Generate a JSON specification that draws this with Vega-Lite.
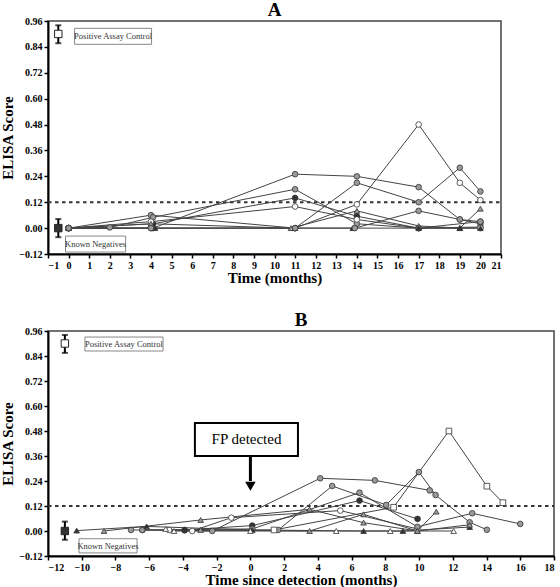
{
  "$schema": "https://vega.github.io/schema/vega-lite/v6.json",
  "background": "white",
  "padding": {"left": 0, "top": 0, "right": 4, "bottom": 0},
  "spacing": 24,
  "config": {
    "view": {"stroke": "#444", "strokeWidth": 1.5},
    "axis": {
      "labelFont": "Liberation Serif, Times New Roman, DejaVu Serif, serif", "labelFontWeight": "bold", "labelFontSize": 10, "labelColor": "black",
      "titleFont": "Liberation Serif, Times New Roman, DejaVu Serif, serif", "titleFontSize": 15, "titleFontWeight": "bold", "titleColor": "black",
      "domainColor": "black", "domainWidth": 2, "tickColor": "black", "tickWidth": 1.5, "tickSize": 4,
      "grid": false, "labelPadding": 2
    },
    "axisX": {"titlePadding": 0},
    "axisY": {"titlePadding": 3},
    "title": {"font": "Liberation Serif, Times New Roman, DejaVu Serif, serif", "fontSize": 19, "fontWeight": "bold", "color": "black", "anchor": "middle", "offset": -4}
  },
  "datasets": {
    "a": [
      {"s": "A1", "m": "open circle", "t": 0, "v": 0}, {"s": "A1", "m": "open circle", "t": 4, "v": 0.0}, {"s": "A1", "m": "open circle", "t": 11, "v": 0}, {"s": "A1", "m": "open circle", "t": 14, "v": 0.11}, {"s": "A1", "m": "open circle", "t": 17, "v": 0.48}, {"s": "A1", "m": "open circle", "t": 19, "v": 0.21}, {"s": "A1", "m": "open circle", "t": 20, "v": 0.13},
      {"s": "A2", "m": "gray circle", "t": 0, "v": 0}, {"s": "A2", "m": "gray circle", "t": 4.1, "v": 0.0}, {"s": "A2", "m": "gray circle", "t": 11, "v": 0.25}, {"s": "A2", "m": "gray circle", "t": 14, "v": 0.24}, {"s": "A2", "m": "gray circle", "t": 17, "v": 0.19}, {"s": "A2", "m": "gray circle", "t": 19, "v": 0.04}, {"s": "A2", "m": "gray circle", "t": 20, "v": 0.02},
      {"s": "A3", "m": "gray circle", "t": 0, "v": 0}, {"s": "A3", "m": "gray circle", "t": 4, "v": 0.06}, {"s": "A3", "m": "gray circle", "t": 11, "v": 0}, {"s": "A3", "m": "gray circle", "t": 14, "v": 0.21}, {"s": "A3", "m": "gray circle", "t": 17, "v": 0.12}, {"s": "A3", "m": "gray circle", "t": 19, "v": 0.28}, {"s": "A3", "m": "gray circle", "t": 20, "v": 0.17},
      {"s": "A4", "m": "gray circle", "t": 0, "v": 0}, {"s": "A4", "m": "gray circle", "t": 2, "v": 0.003}, {"s": "A4", "m": "gray circle", "t": 4.1, "v": 0.05}, {"s": "A4", "m": "gray circle", "t": 11, "v": 0.18}, {"s": "A4", "m": "gray circle", "t": 14, "v": 0.02}, {"s": "A4", "m": "gray circle", "t": 17, "v": 0.0}, {"s": "A4", "m": "gray circle", "t": 20, "v": 0.005},
      {"s": "A5", "m": "dark circle", "t": 0, "v": 0}, {"s": "A5", "m": "dark circle", "t": 4.1, "v": 0.02}, {"s": "A5", "m": "dark circle", "t": 11, "v": 0.14}, {"s": "A5", "m": "dark circle", "t": 14, "v": 0.055}, {"s": "A5", "m": "dark circle", "t": 17, "v": 0.0}, {"s": "A5", "m": "dark circle", "t": 20, "v": 0.03},
      {"s": "A6", "m": "open circle", "t": 0, "v": 0}, {"s": "A6", "m": "open circle", "t": 4, "v": 0.03}, {"s": "A6", "m": "open circle", "t": 11, "v": 0.10}, {"s": "A6", "m": "open circle", "t": 14, "v": 0.04}, {"s": "A6", "m": "open circle", "t": 17, "v": 0.0}, {"s": "A6", "m": "open circle", "t": 20, "v": 0.0},
      {"s": "A7", "m": "gray triangle", "t": 0, "v": 0}, {"s": "A7", "m": "gray triangle", "t": 4, "v": 0.02}, {"s": "A7", "m": "gray triangle", "t": 10.8, "v": 0}, {"s": "A7", "m": "gray triangle", "t": 14, "v": 0.08}, {"s": "A7", "m": "gray triangle", "t": 17, "v": 0.01}, {"s": "A7", "m": "gray triangle", "t": 19, "v": 0.0}, {"s": "A7", "m": "gray triangle", "t": 20, "v": 0.09},
      {"s": "A8", "m": "dark triangle", "t": 0, "v": 0}, {"s": "A8", "m": "dark triangle", "t": 4.2, "v": 0.0}, {"s": "A8", "m": "dark triangle", "t": 11, "v": 0}, {"s": "A8", "m": "dark triangle", "t": 13.8, "v": 0.0}, {"s": "A8", "m": "dark triangle", "t": 17, "v": 0}, {"s": "A8", "m": "dark triangle", "t": 19, "v": 0}, {"s": "A8", "m": "dark triangle", "t": 20, "v": 0},
      {"s": "A9", "m": "gray circle", "t": 0, "v": 0}, {"s": "A9", "m": "gray circle", "t": 4, "v": 0.0}, {"s": "A9", "m": "gray circle", "t": 11, "v": 0.0}, {"s": "A9", "m": "gray circle", "t": 13.9, "v": 0.0}, {"s": "A9", "m": "gray circle", "t": 17, "v": 0.08}, {"s": "A9", "m": "gray circle", "t": 19, "v": 0.04}, {"s": "A9", "m": "gray circle", "t": 20, "v": 0.03}
    ],
    "b": [
      {"s": "B1", "m": "gray circle", "t": -6.4, "v": 0.005}, {"s": "B1", "m": "gray circle", "t": -2.26, "v": 0.0}, {"s": "B1", "m": "gray circle", "t": 4.14, "v": 0.253}, {"s": "B1", "m": "gray circle", "t": 7.38, "v": 0.243}, {"s": "B1", "m": "gray circle", "t": 10.63, "v": 0.195}, {"s": "B1", "m": "gray circle", "t": 13.0, "v": 0.042}, {"s": "B1", "m": "gray circle", "t": 14.02, "v": 0.006},
      {"s": "B2", "m": "gray circle", "t": -7.08, "v": 0.005}, {"s": "B2", "m": "gray circle", "t": -3.9, "v": 0.003}, {"s": "B2", "m": "gray circle", "t": 1.65, "v": 0.005}, {"s": "B2", "m": "gray circle", "t": 4.85, "v": 0.216}, {"s": "B2", "m": "gray circle", "t": 8.05, "v": 0.125}, {"s": "B2", "m": "gray circle", "t": 9.99, "v": 0.283}, {"s": "B2", "m": "gray circle", "t": 10.98, "v": 0.173},
      {"s": "B3", "m": "open square", "t": 1.4, "v": 0.005}, {"s": "B3", "m": "open square", "t": 8.49, "v": 0.114}, {"s": "B3", "m": "open square", "t": 11.77, "v": 0.48}, {"s": "B3", "m": "open square", "t": 14.02, "v": 0.215}, {"s": "B3", "m": "open square", "t": 14.97, "v": 0.136},
      {"s": "B4", "m": "open circle", "t": -4.82, "v": 0.005}, {"s": "B4", "m": "open circle", "t": -3.45, "v": 0.0}, {"s": "B4", "m": "open circle", "t": -1.13, "v": 0.064}, {"s": "B4", "m": "open circle", "t": 5.33, "v": 0.098}, {"s": "B4", "m": "open circle", "t": 9.9, "v": 0.01},
      {"s": "B5", "m": "dark circle", "t": -3.9, "v": 0.005}, {"s": "B5", "m": "dark circle", "t": 0.11, "v": 0.026}, {"s": "B5", "m": "dark circle", "t": 6.47, "v": 0.146}, {"s": "B5", "m": "dark circle", "t": 9.91, "v": 0.058},
      {"s": "B6", "m": "gray circle", "t": -6.41, "v": 0.005}, {"s": "B6", "m": "gray circle", "t": 0.11, "v": 0.01}, {"s": "B6", "m": "gray circle", "t": 6.47, "v": 0.184}, {"s": "B6", "m": "gray circle", "t": 9.9, "v": 0.02}, {"s": "B6", "m": "gray circle", "t": 13.15, "v": 0.085}, {"s": "B6", "m": "gray circle", "t": 16.0, "v": 0.034},
      {"s": "B7", "m": "gray triangle", "t": -8.68, "v": 0.0}, {"s": "B7", "m": "gray triangle", "t": -2.95, "v": 0.053}, {"s": "B7", "m": "gray triangle", "t": 3.51, "v": 0.104}, {"s": "B7", "m": "gray triangle", "t": 6.71, "v": 0.04}, {"s": "B7", "m": "gray triangle", "t": 9.9, "v": 0.0}, {"s": "B7", "m": "gray triangle", "t": 11.02, "v": 0.093},
      {"s": "B8", "m": "dark triangle", "t": -10.3, "v": 0.002}, {"s": "B8", "m": "dark triangle", "t": -6.15, "v": 0.022}, {"s": "B8", "m": "dark triangle", "t": 0.11, "v": 0.005}, {"s": "B8", "m": "dark triangle", "t": 6.71, "v": 0.0}, {"s": "B8", "m": "dark triangle", "t": 9.04, "v": 0.0}, {"s": "B8", "m": "dark triangle", "t": 13.0, "v": 0.019},
      {"s": "B9", "m": "open triangle", "t": -5.02, "v": 0.01}, {"s": "B9", "m": "open triangle", "t": -4.53, "v": 0.0}, {"s": "B9", "m": "open triangle", "t": 0.0, "v": 0.0}, {"s": "B9", "m": "open triangle", "t": 5.09, "v": 0.0}, {"s": "B9", "m": "open triangle", "t": 8.29, "v": 0.0}, {"s": "B9", "m": "open triangle", "t": 12.05, "v": 0.0},
      {"s": "B10", "m": "gray triangle", "t": -2.95, "v": 0.005}, {"s": "B10", "m": "gray triangle", "t": 3.51, "v": 0.0}, {"s": "B10", "m": "gray triangle", "t": 6.71, "v": 0.08}, {"s": "B10", "m": "gray triangle", "t": 9.9, "v": 0.0}, {"s": "B10", "m": "gray triangle", "t": 13.0, "v": 0.03}
    ],
    "threshA": [{"t": -1, "t2": 21, "v": 0.12}],
    "threshB": [{"t": -12, "t2": 18, "v": 0.12}],
    "boxesA": [
      {"t": 0.29, "t2": 4.03, "v": 0.926, "v2": 0.852},
      {"t": -0.15, "t2": 2.77, "v": -0.037, "v2": -0.111}
    ],
    "labelsA": [
      {"t": 2.16, "v": 0.889, "label": "Positive Assay Control"},
      {"t": 1.31, "v": -0.074, "label": "Known Negatives"}
    ],
    "boxesB": [
      {"t": -9.81, "t2": -5.18, "v": 0.931, "v2": 0.864},
      {"t": -10.16, "t2": -6.72, "v": -0.037, "v2": -0.105}
    ],
    "labelsB": [
      {"t": -7.5, "v": 0.897, "label": "Positive Assay Control"},
      {"t": -8.44, "v": -0.071, "label": "Known Negatives"}
    ],
    "errA": [{"t": -0.5, "v": 0.857, "v2": 0.94}, {"t": -0.5, "v": -0.042, "v2": 0.042}],
    "ctrlA": [{"t": -0.5, "v": 0.9, "m": "open square"}, {"t": -0.5, "v": 0.0, "m": "dark square"}],
    "errB": [{"t": -11, "v": 0.855, "v2": 0.941}, {"t": -11, "v": -0.042, "v2": 0.045}],
    "ctrlB": [{"t": -11, "v": 0.9, "m": "open square"}, {"t": -11, "v": 0.0, "m": "dark square"}],
    "fpBox": [{"t": -3.29, "t2": 2.82, "v": 0.518, "v2": 0.36}],
    "fpLabel": [{"t": -0.23, "v": 0.44, "label": "FP detected"}],
    "arrowShaft": [{"t": 0, "v": 0.36, "v2": 0.24}],
    "arrowHead": [{"t": 0, "v": 0.215}]
  },
  "vconcat": [
    {
      "title": {"text": "A"},
      "width": 453,
      "height": 233,
      "encoding": {
        "x": {"field": "t", "type": "quantitative", "scale": {"domain": [-1, 21], "nice": false, "zero": false},
              "axis": {"values": [-1,0,1,2,3,4,5,6,7,8,9,10,11,12,13,14,15,16,17,18,19,20,21], "title": "Time (months)"}},
        "y": {"field": "v", "type": "quantitative", "scale": {"domain": [-0.12, 0.96], "nice": false, "zero": false},
              "axis": {"values": [-0.12,0,0.12,0.24,0.36,0.48,0.6,0.72,0.84,0.96], "format": ".2f", "title": "ELISA Score"}}
      },
      "layer": [
        {"data": {"name": "threshA"}, "mark": {"type": "rule", "color": "#333", "strokeWidth": 2, "strokeDash": [3.5, 3.5]},
         "encoding": {"x2": {"field": "t2"}}},
        {"data": {"name": "a"}, "mark": {"type": "line", "color": "#444", "strokeWidth": 1},
         "encoding": {"detail": {"field": "s"}, "order": {"field": "t"}}},
        {"data": {"name": "a"}, "mark": {"type": "point", "filled": true, "stroke": "#333", "strokeWidth": 0.8, "size": 32, "opacity": 1},
         "encoding": {
           "shape": {"field": "m", "scale": {"domain": ["gray circle","open circle","dark circle","gray triangle","dark triangle","open triangle","open square","dark square"], "range": ["circle","circle","circle","triangle-up","triangle-up","triangle-up","square","square"]}, "legend": null},
           "fill": {"field": "m", "scale": {"domain": ["gray circle","open circle","dark circle","gray triangle","dark triangle","open triangle","open square","dark square"], "range": ["#9a9a9a","#ffffff","#333333","#9a9a9a","#333333","#ffffff","#ffffff","#333333"]}, "legend": null}
         }},
        {"data": {"name": "boxesA"}, "mark": {"type": "rect", "fill": "white", "stroke": "#888", "strokeWidth": 1},
         "encoding": {"x2": {"field": "t2"}, "y2": {"field": "v2"}}},
        {"data": {"name": "labelsA"}, "mark": {"type": "text", "font": "Liberation Serif, Times New Roman, DejaVu Serif, serif", "fontSize": 8.5, "color": "#333", "align": "center", "baseline": "middle"},
         "encoding": {"text": {"field": "label"}}},
        {"data": {"name": "errA"}, "mark": {"type": "errorbar", "ticks": {"size": 6}, "thickness": 2, "color": "black"},
         "encoding": {"y2": {"field": "v2"}}},
        {"data": {"name": "ctrlA"}, "mark": {"type": "point", "filled": true, "stroke": "#222", "strokeWidth": 1, "size": 55, "opacity": 1},
         "encoding": {"shape": {"field": "m", "legend": null}, "fill": {"field": "m", "legend": null}}}
      ]
    },
    {
      "title": {"text": "B"},
      "width": 506,
      "height": 225,
      "encoding": {
        "x": {"field": "t", "type": "quantitative", "scale": {"domain": [-12, 18], "nice": false, "zero": false},
              "axis": {"values": [-12,-10,-8,-6,-4,-2,0,2,4,6,8,10,12,14,16,18], "title": "Time since detection (months)"}},
        "y": {"field": "v", "type": "quantitative", "scale": {"domain": [-0.12, 0.96], "nice": false, "zero": false},
              "axis": {"values": [-0.12,0,0.12,0.24,0.36,0.48,0.6,0.72,0.84,0.96], "format": ".2f", "title": "ELISA Score"}}
      },
      "layer": [
        {"data": {"name": "threshB"}, "mark": {"type": "rule", "color": "#333", "strokeWidth": 2, "strokeDash": [3.5, 3.5]},
         "encoding": {"x2": {"field": "t2"}}},
        {"data": {"name": "b"}, "mark": {"type": "line", "color": "#444", "strokeWidth": 1},
         "encoding": {"detail": {"field": "s"}, "order": {"field": "t"}}},
        {"data": {"name": "b"}, "mark": {"type": "point", "filled": true, "stroke": "#333", "strokeWidth": 0.8, "size": 32, "opacity": 1},
         "encoding": {"shape": {"field": "m", "legend": null}, "fill": {"field": "m", "legend": null}}},
        {"data": {"name": "boxesB"}, "mark": {"type": "rect", "fill": "white", "stroke": "#888", "strokeWidth": 1},
         "encoding": {"x2": {"field": "t2"}, "y2": {"field": "v2"}}},
        {"data": {"name": "labelsB"}, "mark": {"type": "text", "font": "Liberation Serif, Times New Roman, DejaVu Serif, serif", "fontSize": 8.5, "color": "#333", "align": "center", "baseline": "middle"},
         "encoding": {"text": {"field": "label"}}},
        {"data": {"name": "errB"}, "mark": {"type": "errorbar", "ticks": {"size": 6}, "thickness": 2, "color": "black"},
         "encoding": {"y2": {"field": "v2"}}},
        {"data": {"name": "ctrlB"}, "mark": {"type": "point", "filled": true, "stroke": "#222", "strokeWidth": 1, "size": 55, "opacity": 1},
         "encoding": {"shape": {"field": "m", "legend": null}, "fill": {"field": "m", "legend": null}}},
        {"data": {"name": "fpBox"}, "mark": {"type": "rect", "fill": "white", "stroke": "black", "strokeWidth": 2},
         "encoding": {"x2": {"field": "t2"}, "y2": {"field": "v2"}}},
        {"data": {"name": "fpLabel"}, "mark": {"type": "text", "font": "Liberation Serif, Times New Roman, DejaVu Serif, serif", "fontSize": 15, "color": "black", "align": "center", "baseline": "middle"},
         "encoding": {"text": {"field": "label"}}},
        {"data": {"name": "arrowShaft"}, "mark": {"type": "rule", "color": "black", "strokeWidth": 3},
         "encoding": {"y2": {"field": "v2"}}},
        {"data": {"name": "arrowHead"}, "mark": {"type": "point", "shape": "triangle-down", "filled": true, "color": "black", "size": 110, "opacity": 1},
         "encoding": {}}
      ]
    }
  ]
}
